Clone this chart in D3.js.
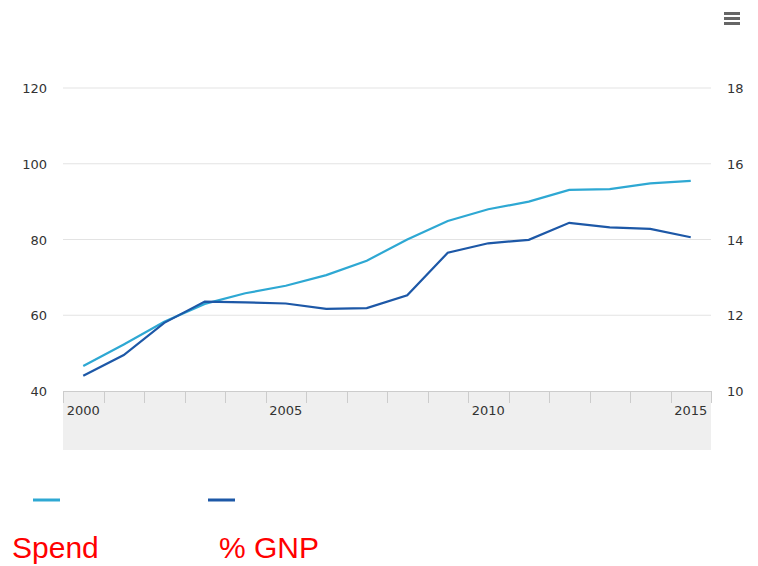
<!DOCTYPE html>
<html>
<head>
<meta charset="utf-8">
<script src="https://cdn.jsdelivr.net/npm/d3@7"></script>
<style>
  body { margin: 0; background: #fff; }
  text { font-family: "DejaVu Sans", sans-serif; }
</style>
</head>
<body>
<svg id="chart" width="758" height="566"></svg>
<script>
const years = d3.range(2000, 2016);
const spend = [46.6, 52.3, 58.3, 63.0, 65.8, 67.8, 70.6, 74.4, 80.0, 84.9, 88.0, 90.0, 93.1, 93.3, 94.8, 95.5];
const gnp = [10.4, 10.95, 11.8, 12.36, 12.34, 12.31, 12.17, 12.19, 12.53, 13.65, 13.9, 13.99, 14.44, 14.32, 14.28, 14.06];
const leftTicks = [40, 60, 80, 100, 120];
const rightTicks = [10, 12, 14, 16, 18];
const yearLabels = [2000, 2005, 2010, 2015];
const seriesNames = ["Spend", "% GNP"];
const colors = ["#2ea8d3", "#1d58a7"];

const svg = d3.select("#chart");
const margin = { left: 63, right: 47, top: 88, bottom: 175 };
const width = 758, height = 566;

const x = d3.scaleBand()
    .domain(years)
    .range([margin.left, width - margin.right]);
const xc = d => x(d) + x.bandwidth() / 2;

const yL = d3.scaleLinear().domain([40, 120]).range([height - margin.bottom, margin.top]);
const yR = d3.scaleLinear().domain([10, 18]).range([height - margin.bottom, margin.top]);

// grid
svg.append("g")
    .selectAll("line")
    .data(leftTicks.slice(1))
    .enter().append("line")
    .attr("x1", margin.left).attr("x2", width - margin.right)
    .attr("y1", d => yL(d)).attr("y2", d => yL(d))
    .attr("stroke", "#e3e3e3").attr("stroke-width", 1);

// left axis labels
svg.append("g")
    .selectAll("text")
    .data(leftTicks)
    .enter().append("text")
    .attr("x", 47).attr("y", d => yL(d) + 5)
    .attr("text-anchor", "end")
    .style("font-size", "13px").attr("fill", "#333")
    .text(d => d);

// right axis labels
svg.append("g")
    .selectAll("text")
    .data(rightTicks)
    .enter().append("text")
    .attr("x", 727).attr("y", d => yR(d) + 5)
    .attr("text-anchor", "start")
    .style("font-size", "13px").attr("fill", "#333")
    .text(d => d);

// x axis band
const y0 = height - margin.bottom;
svg.append("rect")
    .attr("x", margin.left).attr("y", y0)
    .attr("width", width - margin.left - margin.right).attr("height", 59)
    .attr("fill", "#efefef");
svg.append("line")
    .attr("x1", margin.left).attr("x2", width - margin.right)
    .attr("y1", y0 + 0.5).attr("y2", y0 + 0.5)
    .attr("stroke", "#cccccc");

const tickPos = years.map(d => x(d)).concat([width - margin.right]);
svg.append("g")
    .selectAll("line")
    .data(tickPos)
    .enter().append("line")
    .attr("x1", d => Math.round(d) + 0.5).attr("x2", d => Math.round(d) + 0.5)
    .attr("y1", y0).attr("y2", y0 + 12)
    .attr("stroke", "#cccccc");

svg.append("g")
    .selectAll("text")
    .data(yearLabels)
    .enter().append("text")
    .attr("x", d => xc(d)).attr("y", y0 + 24)
    .attr("text-anchor", "middle")
    .style("font-size", "13px").attr("fill", "#333")
    .text(d => d);

// lines
const lineL = d3.line().x((d, i) => xc(years[i])).y(d => yL(d));
const lineR = d3.line().x((d, i) => xc(years[i])).y(d => yR(d));

svg.append("path").datum(spend)
    .attr("d", lineL).attr("fill", "none")
    .attr("stroke", colors[0]).attr("stroke-width", 2.2);
svg.append("path").datum(gnp)
    .attr("d", lineR).attr("fill", "none")
    .attr("stroke", colors[1]).attr("stroke-width", 2.2);

// legend
const legendX = [33, 208];
seriesNames.forEach((name, i) => {
    svg.append("line")
        .attr("x1", legendX[i]).attr("x2", legendX[i] + 27)
        .attr("y1", 500).attr("y2", 500)
        .attr("stroke", colors[i]).attr("stroke-width", 3);
});
const labelX = [12, 219];
seriesNames.forEach((name, i) => {
    svg.append("text")
        .attr("x", labelX[i]).attr("y", 558)
        .style("font-family", "'Liberation Sans', Arial, sans-serif")
        .style("font-size", "30px").attr("fill", "#ff0000")
        .text(name);
});

// menu icon
svg.append("g")
    .selectAll("rect")
    .data([0, 1, 2])
    .enter().append("rect")
    .attr("x", 724).attr("y", d => 12 + d * 5)
    .attr("width", 16).attr("height", 3)
    .attr("fill", "#666");
</script>
</body>
</html>
